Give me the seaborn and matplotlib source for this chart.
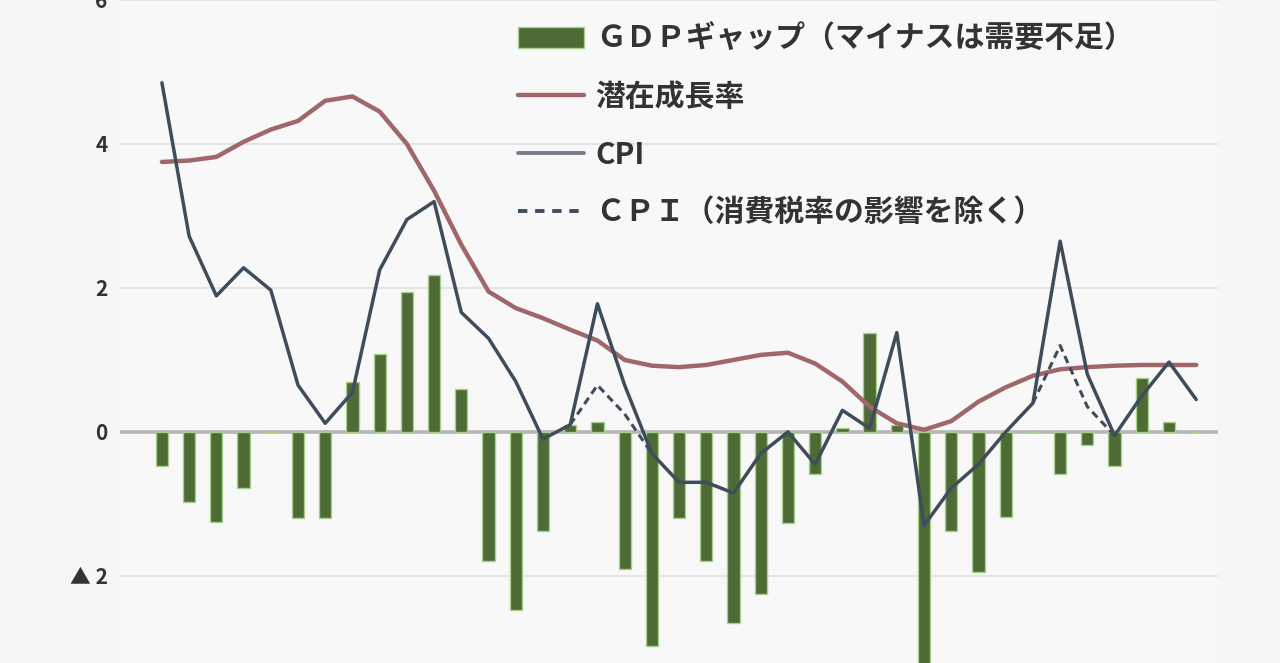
import numpy as np
import pandas as pd
import matplotlib
matplotlib.use("Agg")
import matplotlib.pyplot as plt
import seaborn as sns
from matplotlib.patches import Patch
from matplotlib.lines import Line2D

# ---------------- data ----------------
years = list(range(1981, 2020))
gdp_gap = [-0.48, -0.97, -1.25, -0.78, 0.0, -1.2, -1.2, 0.7, 1.08, 1.95,
           2.18, 0.6, -1.8, -2.47, -1.38, 0.1, 0.14, -1.9, -2.98, -1.2,
           -1.8, -2.66, -2.25, -1.27, -0.58, 0.05, 1.38, 0.1, -4.5, -1.38,
           -1.95, -1.18, 0.0, -0.58, -0.18, -0.48, 0.75, 0.14, 0.0]
potential_growth = [3.75, 3.77, 3.82, 4.03, 4.2, 4.32, 4.6, 4.66, 4.45, 4.0,
                    3.35, 2.6, 1.95, 1.72, 1.58, 1.42, 1.27, 1.0, 0.92, 0.9,
                    0.93, 1.0, 1.07, 1.1, 0.95, 0.7, 0.35, 0.12, 0.03, 0.15,
                    0.42, 0.62, 0.78, 0.87, 0.9, 0.92, 0.93, 0.93, 0.93]
cpi = [4.85, 2.72, 1.89, 2.28, 1.97, 0.65, 0.12, 0.55, 2.25, 2.95,
       3.2, 1.66, 1.3, 0.7, -0.1, 0.1, 1.78, 0.65, -0.3, -0.7,
       -0.7, -0.85, -0.3, 0.0, -0.45, 0.3, 0.05, 1.38, -1.3, -0.78,
       -0.45, 0.0, 0.4, 2.65, 0.8, -0.05, 0.5, 0.97, 0.45]
nan = np.nan
cpi_ex_tax = [nan, nan, nan, nan, nan, nan, nan, nan, nan, nan,
              nan, nan, nan, nan, nan, 0.1, 0.65, 0.25, -0.3, nan,
              nan, nan, nan, nan, nan, nan, nan, nan, nan, nan,
              nan, nan, 0.4, 1.2, 0.35, -0.05, nan, nan, nan]

y_ticks = [-2, 0, 2, 4, 6]
y_tick_labels = ["▲ 2", "0", "2", "4", "6"]
legend_labels = ["ＧＤＰギャップ（マイナスは需要不足）", "潜在成長率", "CPI",
                 "ＣＰＩ（消費税率の影響を除く）"]

# ---------------- styling ----------------
BAR_FACE = "#4e6b36"
BAR_EDGE = "#a9cf8e"
POT_COLOR = "#a0676a"
CPI_COLOR = "#3e4c5c"

sns.set_theme(style="white")
plt.rcParams['font.family'] = ['Noto Sans CJK JP', 'DejaVu Sans']

fig = plt.figure(figsize=(12.8, 6.63), dpi=100, facecolor="#f6f6f6")
ax = fig.add_axes([120 / 1280, 0, (1218 - 120) / 1280, 1])
ax.set_facecolor("#f8f8f8")

df = pd.DataFrame({"year": years, "gdp_gap": gdp_gap,
                   "potential": potential_growth, "cpi": cpi,
                   "cpi_ex": cpi_ex_tax})

# grid + zero line
ax.yaxis.grid(True, color="#e4e4e4", lw=1.5, zorder=0)
ax.set_axisbelow(True)
ax.axhline(0, color="#b5b5b5", lw=2.6, zorder=1)

sns.barplot(data=df, x="year", y="gdp_gap", native_scale=True, width=0.45,
            color=BAR_FACE, saturation=1, edgecolor=BAR_EDGE, linewidth=1.0,
            ax=ax, zorder=2)

sns.lineplot(data=df, x="year", y="potential", color=POT_COLOR, lw=3.2,
             ax=ax, zorder=3)
sns.lineplot(data=df, x="year", y="cpi", color=CPI_COLOR, lw=2.5,
             ax=ax, zorder=4)

# dashed series in separate segments
ex = df[["year", "cpi_ex"]].copy()
ex["seg"] = ex["cpi_ex"].isna().cumsum()
ex = ex.dropna()
sns.lineplot(data=ex, x="year", y="cpi_ex", units="seg", estimator=None,
             color=CPI_COLOR, lw=2.2, linestyle=(0, (2.5, 1.6)), ax=ax,
             zorder=4)

ax.set_xlim(years[0] - 1.54, years[0] + 38.8)
ax.set_ylim(-3.21, 5.93)
ax.set_xticks([])
ax.set_yticks(y_ticks)
ax.set_yticklabels(y_tick_labels, fontsize=15, color="#333333",
                   fontweight="bold")
ax.tick_params(axis="y", length=0, pad=9)
ax.set_xlabel("")
ax.set_ylabel("")
for s in ax.spines.values():
    s.set_visible(False)

handles = [
    Patch(facecolor=BAR_FACE, edgecolor=BAR_EDGE, linewidth=1.0),
    Line2D([], [], color=POT_COLOR, lw=3.2),
    Line2D([], [], color=CPI_COLOR, lw=2.8, alpha=0.7),
    Line2D([], [], color=CPI_COLOR, lw=2.8, linestyle=(0, (2.4, 2.0))),
]
leg = fig.legend(handles, legend_labels, loc="upper left",
                 bbox_to_anchor=(518 / 1280, 1 - 24 / 663),
                 bbox_transform=fig.transFigure, frameon=False,
                 prop={"size": 21.5, "weight": "bold"},
                 handlelength=2.2, handletextpad=0.4, labelspacing=0.93,
                 borderpad=0, borderaxespad=0)
for t in leg.get_texts():
    t.set_color("#333333")

fig.savefig("out.png", dpi=100, facecolor=fig.get_facecolor())
